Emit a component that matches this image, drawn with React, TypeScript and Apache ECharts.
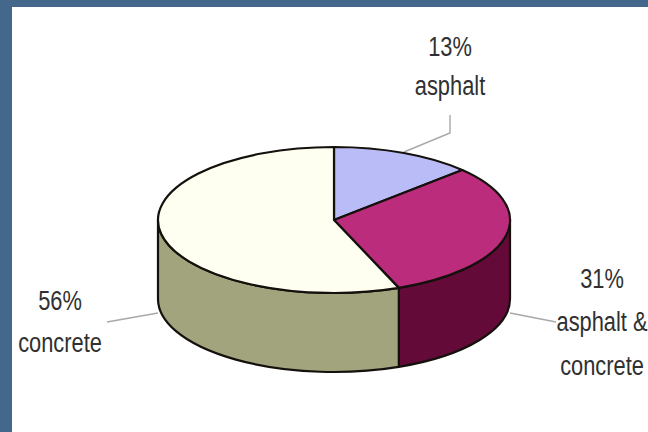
import React, { useEffect, useRef } from "react";
import * as echarts from "echarts";

const categories = ["asphalt", "asphalt & concrete", "concrete"];
const shares = [13, 31, 56];
const percentLabels = ["13%", "31%", "56%"];
const topColors = ["#b9bcf6", "#bb2c7c", "#fefff0"];
const wallColors = ["#8d8fc0", "#630a38", "#a2a47e"];

const CX = 334;
const CY = 220;
const RX = 176;
const RY = 73;
const DEPTH = 79;
const FRONT_START = 90;
const FRONT_END = 270;

const pt = (deg: number, dy = 0) => {
  const a = (deg * Math.PI) / 180;
  return [CX + RX * Math.sin(a), CY - RY * Math.cos(a) + dy];
};
const arc = (to: number[], sweep: number, large: number) =>
  `A ${RX} ${RY} 0 ${large} ${sweep} ${to[0]} ${to[1]}`;

const spans = () => {
  const total = shares.reduce((s, v) => s + v, 0);
  let acc = 0;
  return shares.map((v) => {
    const start = (acc / total) * 360;
    acc += v;
    return [start, (acc / total) * 360];
  });
};

const topPath = (start: number, end: number) => {
  const a = pt(start);
  const b = pt(end);
  return `M ${CX} ${CY} L ${a[0]} ${a[1]} ${arc(b, 1, end - start > 180 ? 1 : 0)} Z`;
};

const wallPath = (start: number, end: number) => {
  const s = Math.max(start, FRONT_START);
  const e = Math.min(end, FRONT_END);
  if (e <= s) return null;
  const a = pt(s);
  const b = pt(e);
  const c = pt(e, DEPTH);
  const d = pt(s, DEPTH);
  return `M ${a[0]} ${a[1]} ${arc(b, 1, 0)} L ${c[0]} ${c[1]} ${arc(d, 0, 0)} Z`;
};

const leaderLines = [
  [[404, 152], [450, 133], [450, 115]],
  [[510, 313], [556, 322]],
  [[158, 313], [107, 322]],
];
const labelLayout = [
  { x: 450, pctY: 46, nameLines: [["asphalt", 85]] },
  { x: 602, pctY: 278, nameLines: [["asphalt &", 321], ["concrete", 365]] },
  { x: 60, pctY: 300, nameLines: [["concrete", 342]] },
];

const FONT = '"Liberation Sans", Arial, sans-serif';
const textEl = (text: string, x: number, y: number) => ({
  type: "text",
  x,
  y,
  scaleX: 0.78,
  z: 10,
  style: { text, fill: "#303030", font: `28px ${FONT}`, textAlign: "center", textVerticalAlign: "middle" },
});

export default function App() {
  const ref = useRef<HTMLDivElement>(null);
  useEffect(() => {
    document.body.style.margin = "0";
    const chart = echarts.init(ref.current!, undefined, { renderer: "svg" });
    const sp = spans();
    const data = shares.map((v, i) => ({ name: categories[i], value: [i, v] }));
    const labels = labelLayout.flatMap((l, i) => [
      textEl(percentLabels[i], l.x, l.pctY),
      ...l.nameLines.map(([t, y]) => textEl(t as string, l.x, y as number)),
    ]);
    chart.setOption({
      animation: false,
      backgroundColor: "#44688b",
      tooltip: { show: false },
      graphic: [
        { type: "rect", z: -10, shape: { x: 12, y: 7, width: 636, height: 425 }, style: { fill: "#ffffff" } },
        ...leaderLines.map((points) => ({
          type: "polyline",
          z: 1,
          shape: { points },
          style: { stroke: "#a8a8a8", lineWidth: 1.4, fill: "none" },
        })),
        ...labels,
      ],
      series: [
        {
          type: "custom",
          coordinateSystem: "none",
          z: 2,
          data,
          renderItem: (params: any) => {
            const [s, e] = sp[params.dataIndex];
            const d = wallPath(s, e);
            if (!d) return { type: "group", children: [] };
            return {
              type: "path",
              shape: { pathData: d },
              style: { fill: wallColors[params.dataIndex], stroke: "#14100c", lineWidth: 2.2, lineJoin: "round" },
            };
          },
        },
        {
          type: "custom",
          coordinateSystem: "none",
          z: 3,
          data,
          renderItem: (params: any) => {
            const [s, e] = sp[params.dataIndex];
            return {
              type: "path",
              shape: { pathData: topPath(s, e) },
              style: { fill: topColors[params.dataIndex], stroke: "#14100c", lineWidth: 2.2, lineJoin: "round" },
            };
          },
        },
      ],
    });
    return () => chart.dispose();
  }, []);
  return <div ref={ref} style={{ width: 648, height: 432 }} />;
}
